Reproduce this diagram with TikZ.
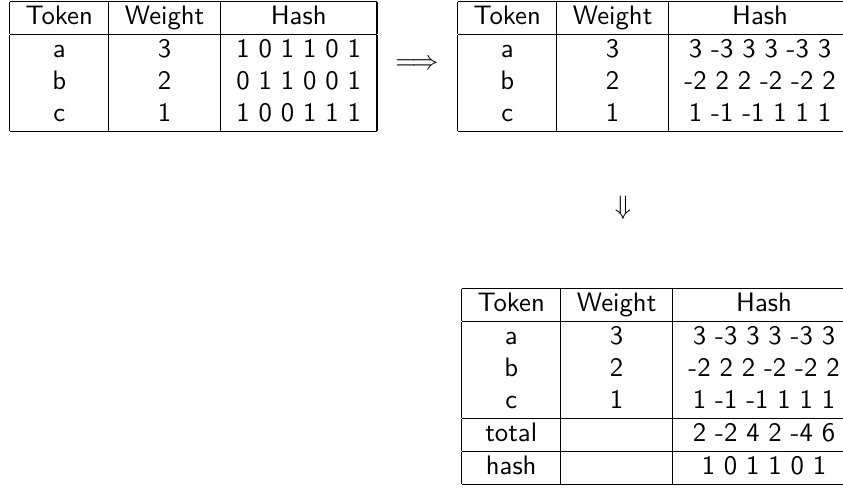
\documentclass[tikz,border=0pt]{standalone}
\usepackage{amsmath}
\usepackage{amssymb}
\tikzset{>=latex}
\tikzset{tbl/.style={inner sep=0pt, anchor=north west, font=\sffamily},
         sym/.style={inner sep=0pt}}

\begin{document}
\begin{tikzpicture}[x=0.3745pt, y=0.3745pt]
    % Fix the frame (the hash column of the right tables runs past it)
    \useasboundingbox (0,0) rectangle (843,487);
    \clip (0,0) rectangle (843,487);

    % Input table: tokens, weights and bit hashes
    \node[tbl] (input) at (9,487) {%
        \begin{tabular}{|c|c|c|}
            \hline
            Token & Weight & Hash \\ \hline
            a & 3 & 1 0 1 1 0 1 \\
            b & 2 & 0 1 1 0 0 1 \\
            c & 1 & 1 0 0 1 1 1 \\ \hline
        \end{tabular}};

    % Bits turned into signed weights
    \node[tbl] (signed) at (457,487) {%
        \begin{tabular}{|c|c|c|}
            \hline
            Token & Weight & Hash \\ \hline
            a & 3 & 3 -3 3 3 -3 3 \\
            b & 2 & -2 2 2 -2 -2 2 \\
            c & 1 & 1 -1 -1 1 1 1 \\ \hline
        \end{tabular}};

    % Column sums and the final hash
    \node[tbl] (summed) at (461,200) {%
        \begin{tabular}{|c|c|c|}
            \hline
            Token & Weight & Hash \\ \hline
            a & 3 & 3 -3 3 3 -3 3 \\
            b & 2 & -2 2 2 -2 -2 2 \\
            c & 1 & 1 -1 -1 1 1 1 \\ \hline
            total & & 2 -2 4 2 -4 6 \\ \hline
            hash & & 1 0 1 1 0 1 \\ \hline
        \end{tabular}};

    % Step symbols
    \node[sym] (right) at (417,422) {$\Longrightarrow$};
    \node[sym] (down) at (623,279) {$\Downarrow$};
\end{tikzpicture}
\end{document}
